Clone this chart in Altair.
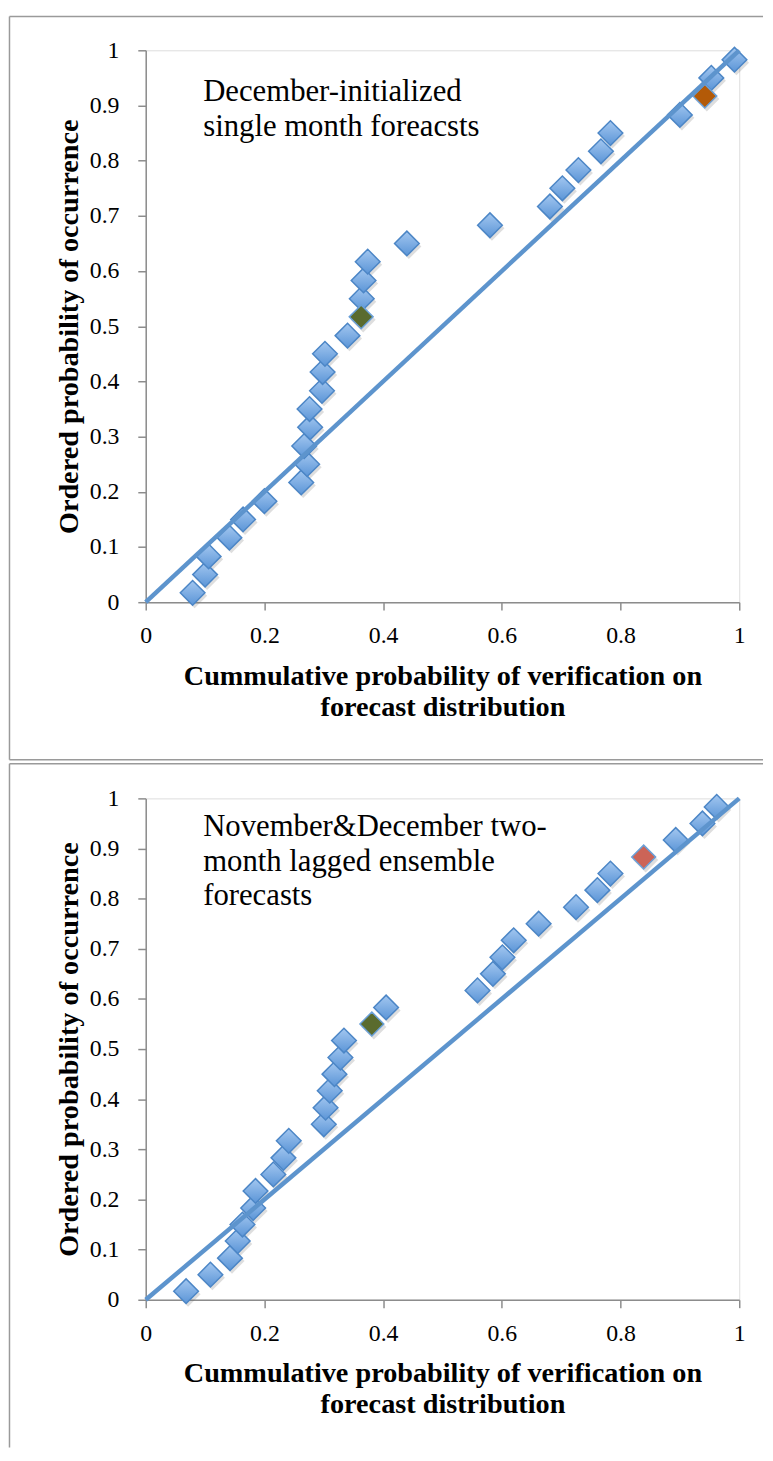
import altair as alt
import pandas as pd

# ---------------- data ----------------
# Panel 1: December-initialized single month forecasts
dec_x = [0.079, 0.100, 0.106, 0.141, 0.164, 0.200, 0.262, 0.272, 0.267, 0.277,
         0.276, 0.297, 0.298, 0.302, 0.340, 0.363, 0.364, 0.367, 0.374, 0.440,
         0.580, 0.681, 0.702, 0.729, 0.767, 0.783, 0.900, 0.942, 0.953, 0.992]
dec_y = [0.017, 0.050, 0.083, 0.117, 0.150, 0.183, 0.217, 0.250, 0.283, 0.317,
         0.350, 0.383, 0.417, 0.450, 0.483, 0.517, 0.550, 0.583, 0.617, 0.650,
         0.683, 0.717, 0.750, 0.783, 0.817, 0.850, 0.883, 0.917, 0.950, 0.983]
dec_kind = ["base", "base", "base", "base", "base", "base", "base", "base", "base", "base",
            "base", "base", "base", "base", "base", "green", "base", "base", "base", "base",
            "base", "base", "base", "base", "base", "base", "base", "orange", "base", "base"]

# Panel 2: November&December two-month lagged ensemble forecasts
nd_x = [0.068, 0.109, 0.142, 0.155, 0.163, 0.181, 0.185, 0.215, 0.232, 0.241,
        0.300, 0.303, 0.310, 0.318, 0.328, 0.334, 0.381, 0.405, 0.559, 0.585,
        0.601, 0.620, 0.662, 0.725, 0.761, 0.783, 0.839, 0.893, 0.938, 0.962]
nd_y = [0.017, 0.050, 0.083, 0.117, 0.150, 0.183, 0.217, 0.250, 0.283, 0.317,
        0.350, 0.383, 0.417, 0.450, 0.483, 0.517, 0.550, 0.583, 0.617, 0.650,
        0.683, 0.717, 0.750, 0.783, 0.817, 0.850, 0.883, 0.917, 0.950, 0.983]
nd_kind = ["base", "base", "base", "base", "base", "base", "base", "base", "base", "base",
           "base", "base", "base", "base", "base", "base", "green", "base", "base", "base",
           "base", "base", "base", "base", "base", "base", "red", "base", "base", "base"]

# 1:1 reference line
diag_x = [0.0, 1.0]
diag_y = [0.0, 1.0]

x_ticks = [0, 0.2, 0.4, 0.6, 0.8, 1]
y_ticks = [0, 0.1, 0.2, 0.3, 0.4, 0.5, 0.6, 0.7, 0.8, 0.9, 1]
x_title = ["Cummulative probability of verification on", "forecast distribution"]
y_title = "Ordered probability of occurrence"
note_dec = ["December-initialized", "single month foreacsts"]
note_nd = ["November&December two-", "month lagged ensemble", "forecasts"]

highlight_domain = ["green", "orange", "red"]
highlight_range = ["#5a6b2e", "#b35a08", "#cc6457"]

# ---------------- styling ----------------
SERIF = "Liberation Serif"
AXIS_GRAY = "#8c8c8c"
FRAME_GRAY = "#9a9a9a"
LINE_BLUE = "#5d94cd"
PLOT_W = 599

diamond_fill = alt.Gradient(
    gradient="linear",
    stops=[alt.GradientStop(color="#a3c7f0", offset=0),
           alt.GradientStop(color="#5b95d7", offset=1)],
    x1=0, x2=0, y1=0, y2=1,
)


def panel(xs, ys, kinds, height, note, note_y, frame_top, frame_bottom, closed):
    df = pd.DataFrame({"x": xs, "y": ys, "kind": kinds})
    line_df = pd.DataFrame({"x": diag_x, "y": diag_y})
    one = pd.DataFrame({"a": [0]})

    xs_ = alt.Scale(domain=[0, 1], nice=False, zero=False)
    ys_ = alt.Scale(domain=[0, 1], nice=False, zero=False)

    xaxis = alt.Axis(
        values=x_ticks, format=".1~f", grid=False,
        title=x_title, titleFont=SERIF, titleFontSize=28.5, titleFontWeight="bold",
        titleColor="black", titleLineHeight=31, titleBaseline="alphabetic",
        titleY=83, titleX=PLOT_W / 2, titleAlign="center",
        labelFont=SERIF, labelFontSize=24, labelColor="black", labelPadding=14,
        domainColor=AXIS_GRAY, domainWidth=1.5, tickColor=AXIS_GRAY, tickWidth=1.5,
        tickSize=8, labelFlush=False, labelOverlap=False,
    )
    yaxis = alt.Axis(
        values=y_ticks, format=".1~f", grid=False,
        title=y_title, titleFont=SERIF, titleFontSize=28.5, titleFontWeight="bold",
        titleColor="black", titleAngle=270, titleBaseline="alphabetic",
        titleX=-69, titleY=height / 2, titleAlign="center",
        labelFont=SERIF, labelFontSize=24, labelColor="black", labelPadding=19,
        domainColor=AXIS_GRAY, domainWidth=1.5, tickColor=AXIS_GRAY, tickWidth=1.5,
        tickSize=8, labelFlush=False, labelOverlap=False,
    )

    enc_x = alt.X("x:Q", scale=xs_, axis=xaxis)
    enc_y = alt.Y("y:Q", scale=ys_, axis=yaxis)

    shadow = alt.Chart(df).mark_point(
        shape="diamond", filled=True, color="#6b6b6b", opacity=0.22, size=640,
        xOffset=2, yOffset=3, strokeWidth=0,
    ).encode(x=enc_x, y=enc_y)

    pts = alt.Chart(df).transform_filter(alt.datum.kind == "base").mark_point(
        shape="diamond", fill=diamond_fill, stroke="#4c86c6", strokeWidth=1.5,
        size=620, opacity=1, fillOpacity=1,
    ).encode(x="x:Q", y="y:Q")

    hi = alt.Chart(df).transform_filter(alt.datum.kind != "base").mark_point(
        shape="diamond", filled=True, stroke="#6aa0d8", strokeWidth=1.5,
        size=580, opacity=1,
    ).encode(
        x="x:Q", y="y:Q",
        fill=alt.Fill("kind:N", scale=alt.Scale(domain=highlight_domain,
                                                range=highlight_range), legend=None),
    )

    line = alt.Chart(line_df).mark_line(
        color=LINE_BLUE, strokeWidth=4.5, strokeCap="butt"
    ).encode(x="x:Q", y="y:Q")

    text = alt.Chart(one).mark_text(
        text=note, align="left", baseline="alphabetic", font=SERIF,
        fontSize=31, lineHeight=35, color="black",
    ).encode(x=alt.value(58), y=alt.value(note_y))

    left = -137.5
    right = 623
    frame = [
        alt.Chart(one).mark_rule(color=FRAME_GRAY, strokeWidth=1.5).encode(
            x=alt.value(left), x2=alt.value(right), y=alt.value(frame_top)),
        alt.Chart(one).mark_rule(color=FRAME_GRAY, strokeWidth=1.5).encode(
            x=alt.value(left), y=alt.value(frame_top), y2=alt.value(frame_bottom)),
    ]
    if closed:
        frame.append(
            alt.Chart(one).mark_rule(color=FRAME_GRAY, strokeWidth=1.5).encode(
                x=alt.value(left), x2=alt.value(right), y=alt.value(frame_bottom)))

    return alt.layer(shadow, pts, hi, line, text, *frame).properties(
        width=PLOT_W, height=height)


top = panel(dec_x, dec_y, dec_kind, 557, note_dec, 51, -34, 716, True)
bottom = panel(nd_x, nd_y, nd_kind, 506, note_nd, 38, -35, 655, False)

chart = alt.vconcat(top, bottom, spacing=0, padding=0).configure_view(
    strokeWidth=0
).configure(background="white")

chart.save("out.html", embed_options={"renderer": "svg", "actions": False})
